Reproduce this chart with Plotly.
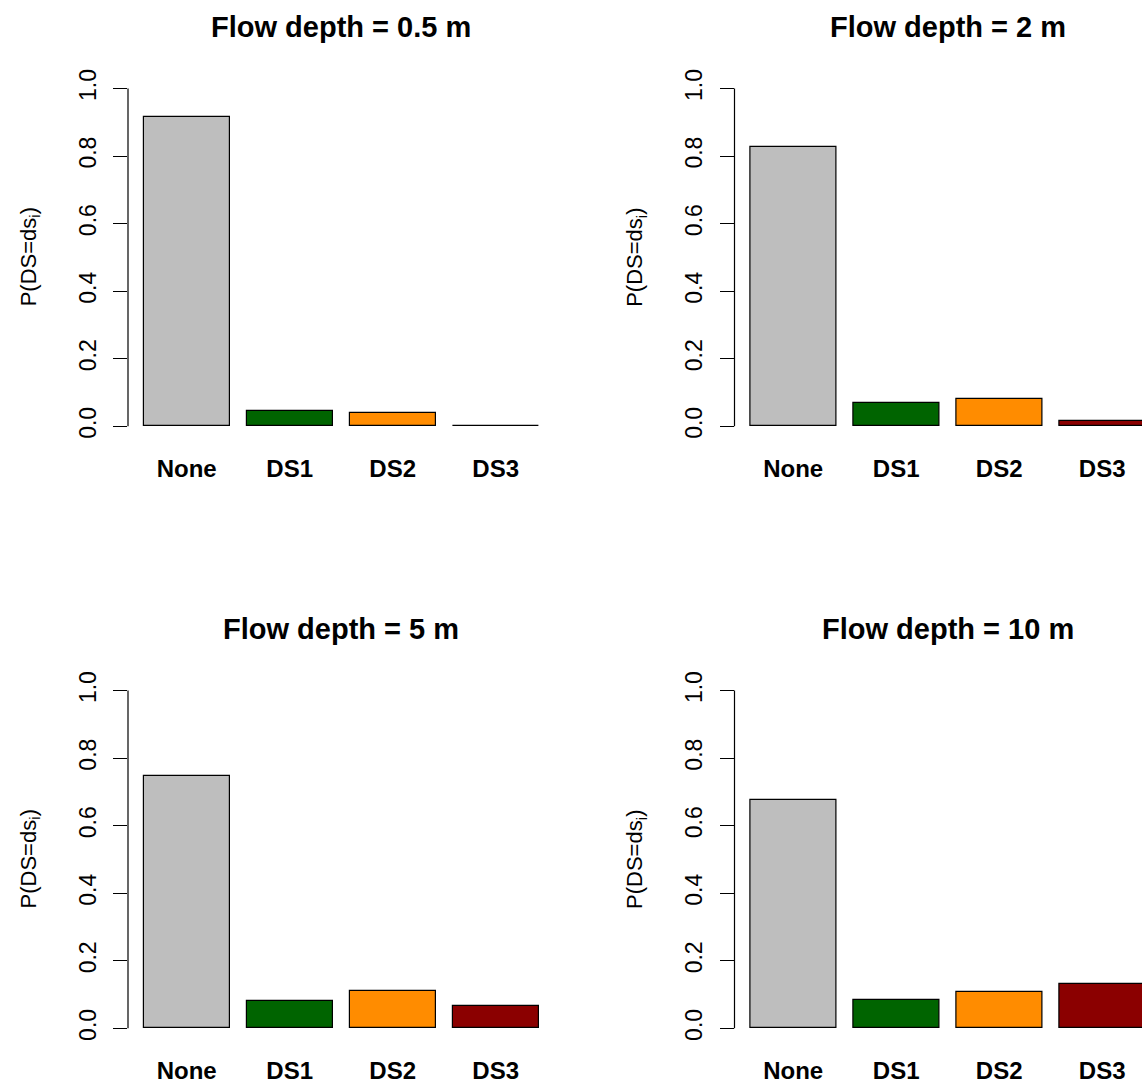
import plotly.graph_objects as go

categories = ["None", "DS1", "DS2", "DS3"]
titles = ["Flow depth = 0.5 m", "Flow depth = 2 m", "Flow depth = 5 m", "Flow depth = 10 m"]
p_05 = [0.915, 0.046, 0.038, 0.001]
p_2 = [0.828, 0.068, 0.082, 0.017]
p_5 = [0.748, 0.081, 0.110, 0.065]
p_10 = [0.676, 0.084, 0.108, 0.132]
bar_colors = ["#BEBEBE", "#006400", "#FF8C00", "#8B0000"]
y_ticks = [0.0, 0.2, 0.4, 0.6, 0.8, 1.0]
y_tick_text = ["0.0", "0.2", "0.4", "0.6", "0.8", "1.0"]

W, H = 1142, 1084
FONT = "Liberation Sans, Arial, sans-serif"

px_per_cat = 103.0
x0 = -0.57
left_px = [128.0, 734.5]
full_width = 4.14 * px_per_cat
# y domains in paper coords (top panels, bottom panels)
ydoms = [[1 - 436.6 / H, 1 - 69.4 / H], [1 - 1042.6 / H, 1 - 675.4 / H]]

panels = [p_05, p_2, p_5, p_10]

fig = go.Figure()
annotations = []
shapes = []
for i, vals in enumerate(panels):
    col = i % 2
    row = i // 2
    n = i + 1
    xa = "x" if n == 1 else f"x{n}"
    ya = "y" if n == 1 else f"y{n}"
    fig.add_trace(go.Bar(
        x=categories, y=vals, xaxis=xa, yaxis=ya,
        width=1 / 1.2,
        marker=dict(color=bar_colors, line=dict(color="black", width=1.2)),
        showlegend=False, hoverinfo="x+y",
    ))
    lpx = left_px[col]
    rpx = min(lpx + full_width, W)
    x_end = x0 + (rpx - lpx) / px_per_cat
    dom = [lpx / W, rpx / W]
    key_x = "xaxis" if n == 1 else f"xaxis{n}"
    key_y = "yaxis" if n == 1 else f"yaxis{n}"
    fig.update_layout(**{
        key_x: dict(domain=dom, anchor=ya, range=[x0, x_end], showline=False,
                    showgrid=False, zeroline=False, ticks="",
                    tickfont=dict(family=FONT, size=24, color="black", weight="bold"),
                    ticklabelstandoff=12, fixedrange=True),
        key_y: dict(domain=ydoms[row], anchor=xa, range=[-0.04, 1.04], showline=False,
                    showgrid=False, zeroline=False, ticks="outside", ticklen=14,
                    tickwidth=1.2, tickcolor="black", tickvals=y_ticks,
                    ticktext=y_tick_text, tickangle=-90,
                    tickfont=dict(family=FONT, size=23, color="black"),
                    ticklabelstandoff=8, fixedrange=True),
    })
    shapes.append(dict(type="line", xref=f"{xa} domain", x0=0, x1=0,
                       yref=ya, y0=y_ticks[0], y1=y_ticks[-1],
                       line=dict(color="black", width=1.2), layer="above"))
    cx = (lpx + lpx + full_width) / 2 / W
    ty = 1 - (21 if row == 0 else 627) / H
    annotations.append(dict(text=f"<b>{titles[i]}</b>", x=cx, y=ty, xref="paper", yref="paper",
                            xanchor="center", yanchor="middle", showarrow=False,
                            font=dict(family=FONT, size=29, color="black")))
    yc = (ydoms[row][0] + ydoms[row][1]) / 2
    annotations.append(dict(text="P(DS=ds<sub>i</sub>)", x=(30 + (lpx - 128)) / W, y=yc,
                            xref="paper", yref="paper", xanchor="center", yanchor="middle",
                            textangle=-90, showarrow=False,
                            font=dict(family=FONT, size=22, color="black")))

fig.update_layout(
    width=W, height=H, margin=dict(l=0, r=0, t=0, b=0),
    paper_bgcolor="white", plot_bgcolor="white",
    annotations=annotations, shapes=shapes, bargap=0,
)
fig.write_html("out.html")
